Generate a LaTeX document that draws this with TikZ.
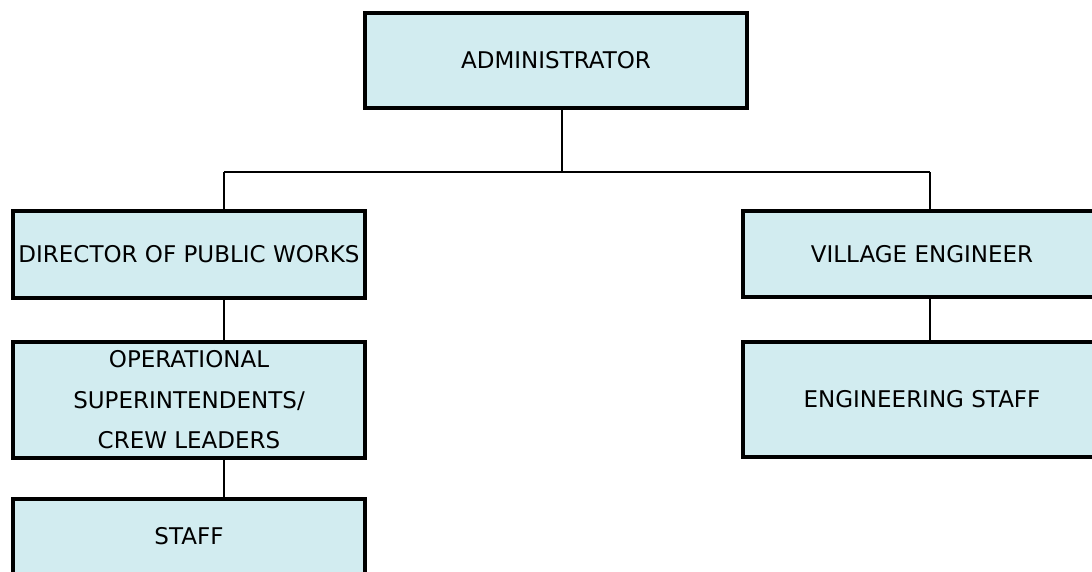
\documentclass[tikz,border=0pt]{standalone}
\usepackage{fontspec}
\setmainfont{DejaVu Sans}
\definecolor{boxfill}{RGB}{210,236,240}
\begin{document}
\begin{tikzpicture}[x=1pt,y=-1pt,
  orgbox/.style={draw=black, line width=4.2pt, fill=boxfill, inner sep=0pt,
    align=center, font=\fontsize{23}{40.5}\selectfont, text=black},
  link/.style={draw=black, line width=2.1pt}]
  \clip (0,0) rectangle (1092,571);
  \fill[white] (0,0) rectangle (1092,571);

  % top of the chart
  \node[orgbox, minimum width=382pt, minimum height=95pt] (admin) at (556,60.5) {ADMINISTRATOR};

  % left branch
  \node[orgbox, minimum width=352pt, minimum height=87pt] (dpw) at (189,254.5) {DIRECTOR OF PUBLIC WORKS};
  \node[orgbox, minimum width=352pt, minimum height=116pt] (ops) at (189,400) {OPERATIONAL\\SUPERINTENDENTS/\\CREW LEADERS};
  \node[orgbox, minimum width=352pt, minimum height=75pt] (staff) at (189,536.5) {STAFF};

  % right branch
  \node[orgbox, minimum width=358pt, minimum height=86pt] (ve) at (922,254) {VILLAGE ENGINEER};
  \node[orgbox, minimum width=358pt, minimum height=115pt] (eng) at (922,399.5) {ENGINEERING STAFF};

  % connector bus
  \coordinate (busM) at (562,172);
  \coordinate (busL) at (224,172);
  \coordinate (busR) at (930,172);

  \draw[link] (admin.south -| busM) -- (busM);
  \draw[link] (busL) -- (busR);
  \draw[link] (busL) -- (dpw.north -| busL);
  \draw[link] (busR) -- (ve.north -| busR);
  \draw[link] (dpw.south -| busL) -- (ops.north -| busL);
  \draw[link] (ops.south -| busL) -- (staff.north -| busL);
  \draw[link] (ve.south -| busR) -- (eng.north -| busR);
\end{tikzpicture}
\end{document}
